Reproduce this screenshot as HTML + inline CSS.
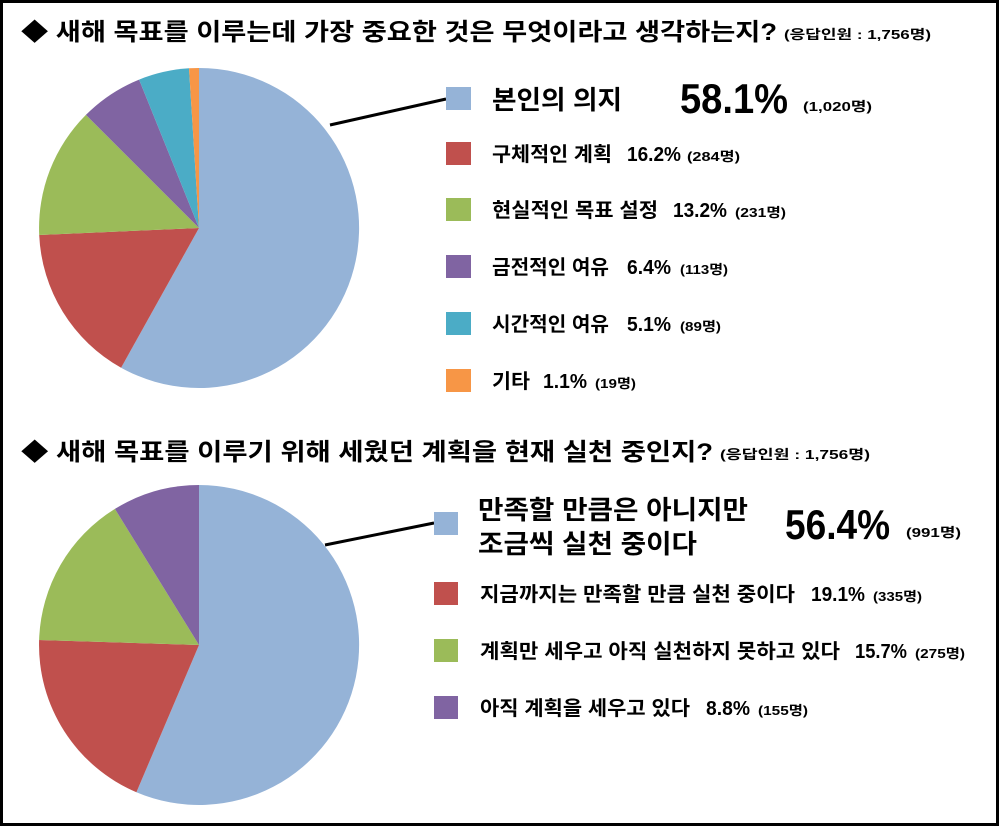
<!DOCTYPE html>
<html><head><meta charset="utf-8"><style>
html,body{margin:0;padding:0;background:#fff}
svg{display:block}
text{font-family:"Liberation Sans","Noto Sans CJK KR","NanumGothic",sans-serif;font-weight:bold;fill:#000}
.lg{font-size:20px}
.sm{font-size:13px}
</style></head><body>
<svg width="1000" height="827" viewBox="0 0 1000 827" xmlns="http://www.w3.org/2000/svg">
<rect x="1.5" y="1.5" width="996" height="823" fill="#fff" stroke="#000" stroke-width="3"/>
<text x="21" y="40" font-size="24" textLength="756" lengthAdjust="spacingAndGlyphs">◆ 새해 목표를 이루는데 가장 중요한 것은 무엇이라고 생각하는지?</text>
<text x="784" y="39" class="sm" textLength="147" lengthAdjust="spacingAndGlyphs">(응답인원 : 1,756명)</text>
<!-- pie 1 -->
<path d="M199,228 L199,68 A160,160 0 1 1 121.1,367.7 Z" fill="#95b3d7"/>
<path d="M199,228 L121.1,367.7 A160,160 0 0 1 39.2,235.0 Z" fill="#c0504d"/>
<path d="M199,228 L39.2,235.0 A160,160 0 0 1 85.9,114.9 Z" fill="#9bbb59"/>
<path d="M199,228 L85.9,114.9 A160,160 0 0 1 139.1,79.6 Z" fill="#8064a2"/>
<path d="M199,228 L139.1,79.6 A160,160 0 0 1 189.0,68.3 Z" fill="#4bacc6"/>
<path d="M199,228 L189.0,68.3 A160,160 0 0 1 199,68 Z" fill="#f79646"/>
<line x1="330" y1="125" x2="446" y2="99" stroke="#000" stroke-width="3"/>
<rect x="446" y="87" width="25" height="23" fill="#95b3d7"/>
<text x="492" y="109" font-size="26" textLength="130" lengthAdjust="spacingAndGlyphs">본인의 의지</text>
<text x="680" y="113" font-size="42" textLength="108" lengthAdjust="spacingAndGlyphs">58.1%</text>
<text x="803" y="111" class="sm" textLength="69" lengthAdjust="spacingAndGlyphs">(1,020명)</text>

<rect x="446" y="142" width="25" height="23" fill="#c0504d"/>
<text x="492" y="161" class="lg" textLength="120" lengthAdjust="spacingAndGlyphs">구체적인 계획</text>
<text x="627" y="161" class="lg" textLength="54" lengthAdjust="spacingAndGlyphs">16.2%</text>
<text x="687" y="161" class="sm" textLength="53" lengthAdjust="spacingAndGlyphs">(284명)</text>

<rect x="446" y="198" width="25" height="23" fill="#9bbb59"/>
<text x="492" y="217" class="lg" textLength="166" lengthAdjust="spacingAndGlyphs">현실적인 목표 설정</text>
<text x="673" y="217" class="lg" textLength="54" lengthAdjust="spacingAndGlyphs">13.2%</text>
<text x="735" y="217" class="sm" textLength="51" lengthAdjust="spacingAndGlyphs">(231명)</text>

<rect x="446" y="255" width="25" height="23" fill="#8064a2"/>
<text x="492" y="274" class="lg" textLength="117" lengthAdjust="spacingAndGlyphs">금전적인 여유</text>
<text x="627" y="274" class="lg" textLength="44" lengthAdjust="spacingAndGlyphs">6.4%</text>
<text x="680" y="274" class="sm" textLength="48" lengthAdjust="spacingAndGlyphs">(113명)</text>

<rect x="446" y="312" width="25" height="23" fill="#4bacc6"/>
<text x="492" y="331" class="lg" textLength="117" lengthAdjust="spacingAndGlyphs">시간적인 여유</text>
<text x="627" y="331" class="lg" textLength="44" lengthAdjust="spacingAndGlyphs">5.1%</text>
<text x="680" y="331" class="sm" textLength="41" lengthAdjust="spacingAndGlyphs">(89명)</text>

<rect x="446" y="369" width="25" height="23" fill="#f79646"/>
<text x="492" y="388" class="lg" textLength="38" lengthAdjust="spacingAndGlyphs">기타</text>
<text x="543" y="388" class="lg" textLength="44" lengthAdjust="spacingAndGlyphs">1.1%</text>
<text x="595" y="388" class="sm" textLength="41" lengthAdjust="spacingAndGlyphs">(19명)</text>

<text x="21" y="460" font-size="24" textLength="692" lengthAdjust="spacingAndGlyphs">◆ 새해 목표를 이루기 위해 세웠던 계획을 현재 실천 중인지?</text>
<text x="720" y="459" class="sm" textLength="150" lengthAdjust="spacingAndGlyphs">(응답인원 : 1,756명)</text>
<!-- pie 2 -->
<path d="M199,645 L199,485 A160,160 0 1 1 136.4,792.2 Z" fill="#95b3d7"/>
<path d="M199,645 L136.4,792.2 A160,160 0 0 1 39.1,640.0 Z" fill="#c0504d"/>
<path d="M199,645 L39.1,640.0 A160,160 0 0 1 114.9,508.9 Z" fill="#9bbb59"/>
<path d="M199,645 L114.9,508.9 A160,160 0 0 1 199,485 Z" fill="#8064a2"/>
<line x1="325" y1="545" x2="434" y2="523" stroke="#000" stroke-width="3"/>
<rect x="434" y="512" width="24" height="23" fill="#95b3d7"/>
<text x="478" y="519" font-size="26" textLength="270" lengthAdjust="spacingAndGlyphs">만족할 만큼은 아니지만</text>
<text x="478" y="553" font-size="26" textLength="219" lengthAdjust="spacingAndGlyphs">조금씩 실천 중이다</text>
<text x="785" y="539" font-size="42" textLength="105" lengthAdjust="spacingAndGlyphs">56.4%</text>
<text x="906" y="537" class="sm" textLength="55" lengthAdjust="spacingAndGlyphs">(991명)</text>

<rect x="434" y="582" width="24" height="23" fill="#c0504d"/>
<text x="480" y="601" class="lg" textLength="315" lengthAdjust="spacingAndGlyphs">지금까지는 만족할 만큼 실천 중이다</text>
<text x="811" y="601" class="lg" textLength="54" lengthAdjust="spacingAndGlyphs">19.1%</text>
<text x="873" y="601" class="sm" textLength="49" lengthAdjust="spacingAndGlyphs">(335명)</text>

<rect x="434" y="639" width="24" height="23" fill="#9bbb59"/>
<text x="480" y="658" class="lg" textLength="360" lengthAdjust="spacingAndGlyphs">계획만 세우고 아직 실천하지 못하고 있다</text>
<text x="855" y="658" class="lg" textLength="52" lengthAdjust="spacingAndGlyphs">15.7%</text>
<text x="915" y="658" class="sm" textLength="50" lengthAdjust="spacingAndGlyphs">(275명)</text>

<rect x="434" y="696" width="24" height="23" fill="#8064a2"/>
<text x="480" y="715" class="lg" textLength="210" lengthAdjust="spacingAndGlyphs">아직 계획을 세우고 있다</text>
<text x="706" y="715" class="lg" textLength="44" lengthAdjust="spacingAndGlyphs">8.8%</text>
<text x="758" y="715" class="sm" textLength="50" lengthAdjust="spacingAndGlyphs">(155명)</text>
</svg>
</body></html>
